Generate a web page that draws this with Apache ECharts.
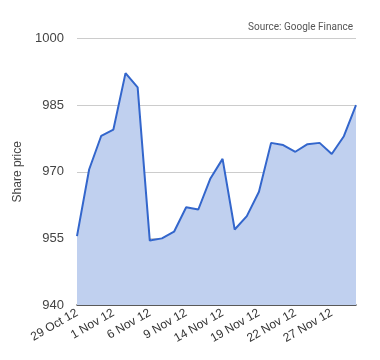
<!DOCTYPE html>
<html><head><meta charset="utf-8">
<script src="https://cdn.jsdelivr.net/npm/echarts@6/dist/echarts.min.js"></script>
<style>html,body{margin:0;padding:0;background:#fff}#c{width:380px;height:360px}</style>
</head><body><div id="c"></div>
<script>
const dates = ["29 Oct 12","30 Oct 12","31 Oct 12","1 Nov 12","2 Nov 12","5 Nov 12","6 Nov 12","7 Nov 12","8 Nov 12","9 Nov 12","12 Nov 12","13 Nov 12","14 Nov 12","15 Nov 12","16 Nov 12","19 Nov 12","20 Nov 12","21 Nov 12","22 Nov 12","23 Nov 12","26 Nov 12","27 Nov 12","28 Nov 12","29 Nov 12"];
const prices = [955.5,970.5,978.1,979.5,992.2,989.0,954.5,955.0,956.5,962.0,961.5,968.5,972.9,957.0,960.0,965.5,976.5,976.0,974.5,976.2,976.5,974.0,978.0,985.0];
const yTicks = [940,955,970,985,1000];

const chart = echarts.init(document.getElementById('c'), null, {renderer:'canvas'});
chart.setOption({
  animation:false,
  backgroundColor:'#fff',
  graphic:[{type:'text', right:27, top:22, style:{text:'Source: Google Finance', font:'10px Roboto', fill:'#555', textAlign:'right'}}],
  grid:{left:77, right:24, top:38.5, bottom:55},
  xAxis:{type:'category', data:dates, boundaryGap:false,
    axisLine:{show:true, lineStyle:{color:'#333', width:1.5}},
    axisTick:{show:false},
    axisLabel:{interval:2, rotate:30, color:'#333', fontSize:12, fontFamily:'"Liberation Sans"', margin:7},
    splitLine:{show:false}},
  yAxis:{type:'value', min:yTicks[0], max:yTicks[yTicks.length-1], interval:15,
    name:'Share price', nameLocation:'middle', nameGap:49, nameRotate:90,
    nameTextStyle:{color:'#444', fontSize:12, fontFamily:'"Liberation Sans"'},
    axisLine:{show:false}, axisTick:{show:false},
    axisLabel:{color:'#444', fontSize:13, fontFamily:'"Liberation Sans"', margin:13, formatter:v=>String(v)},
    splitLine:{lineStyle:{color:'#ccc', width:1}}},
  series:[{type:'line', data:prices, symbol:'none',
    lineStyle:{color:'#3366cc', width:2},
    areaStyle:{color:'#c0d0ef', opacity:1}}]
});
</script></body></html>
